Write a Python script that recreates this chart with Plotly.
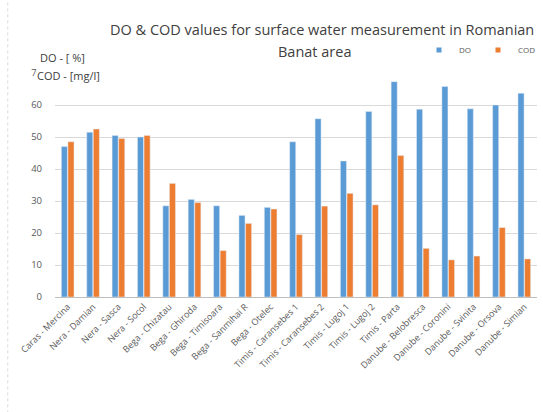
import plotly.graph_objects as go

sites = [
    "Caras - Mercina", "Nera - Damian", "Nera - Sasca", "Nera - Socol",
    "Bega - Chizatau", "Bega - Ghiroda", "Bega - Timisoara", "Bega - Sanmihai R",
    "Bega - Otelec", "Timis - Caransebes 1", "Timis - Caransebes 2",
    "Timis - Lugoj 1", "Timis - Lugoj 2", "Timis - Parta",
    "Danube - Belobresca", "Danube - Coronini", "Danube - Svinita",
    "Danube - Orsova", "Danube - Simian",
]
do_values = [47, 51.5, 50.5, 50, 28.5, 30.5, 28.5, 25.5, 28, 48.5, 55.7,
             42.5, 58, 67.3, 58.7, 65.8, 58.8, 60, 63.7]
cod_values = [48.5, 52.5, 49.5, 50.5, 35.5, 29.5, 14.5, 23, 27.5, 19.5, 28.4,
              32.4, 28.8, 44.2, 15.2, 11.6, 12.8, 21.7, 11.9]
y_ticks = [0, 10, 20, 30, 40, 50, 60, 70]

blue = "#5B9BD5"
orange = "#ED7D31"
grey = "#595959"
dark = "#404040"
font = "Open Sans, Lato, sans-serif"

fig = go.Figure()
fig.add_trace(go.Bar(x=sites, y=do_values, name="DO", marker_color=blue,
                     showlegend=False))
fig.add_trace(go.Bar(x=sites, y=cod_values, name="COD", marker_color=orange,
                     showlegend=False))
# small square legend keys, like the Excel original
for name, colour in [("DO", blue), ("COD", orange)]:
    fig.add_trace(go.Scatter(x=[None], y=[None], mode="markers", name=name,
                             marker=dict(symbol="square", size=5, color=colour)))

fig.update_layout(
    width=543,
    height=412,
    margin=dict(l=55, r=6, t=73, b=115),
    paper_bgcolor="white",
    plot_bgcolor="white",
    font=dict(family=font, color=grey, size=9),
    barmode="group",
    bargap=0.48,
    bargroupgap=0.08,
    legend=dict(
        orientation="h", x=1.0, xanchor="right", y=1.103, yanchor="middle",
        font=dict(size=8, color=grey), itemwidth=30, entrywidth=14,
        bgcolor="rgba(0,0,0,0)", tracegroupgap=0,
    ),
)

# two-line chart title
fig.add_annotation(text="DO & COD values for surface water measurement in Romanian",
                   xref="paper", yref="paper", x=0.553, y=1.192,
                   xanchor="center", yanchor="middle", showarrow=False,
                   font=dict(size=14.5, color=dark))
fig.add_annotation(text="Banat area", xref="paper", yref="paper", x=0.54, y=1.094,
                   xanchor="center", yanchor="middle", showarrow=False,
                   font=dict(size=14.5, color=dark))

# axis captions above the value axis; the COD one sits over the "70" label
fig.add_annotation(text="DO - [ %]", xref="paper", yref="paper",
                   x=-0.036, y=1.067, xanchor="left", yanchor="middle",
                   showarrow=False, font=dict(size=11, color=dark))
fig.add_annotation(text="COD - [mg/l]", xref="paper", yref="paper",
                   x=-0.039, y=0.99, xanchor="left", yanchor="middle",
                   showarrow=False, font=dict(size=11, color=dark),
                   bgcolor="white", borderpad=0)

fig.update_xaxes(
    tickangle=-45, showgrid=False, showline=True, linecolor="#BFBFBF",
    ticks="", tickfont=dict(size=9, color=grey),
)
fig.update_yaxes(
    range=[0, 70], tickvals=y_ticks, showgrid=True, gridcolor="#D9D9D9",
    zeroline=False, showline=False, ticks="", tickfont=dict(size=9.5, color=grey),
    ticklabelstandoff=12,
)
# faint dotted chart border on the left
fig.add_shape(type="line", xref="paper", yref="paper", x0=-0.098, x1=-0.098,
              y0=-0.6, y1=1.4, line=dict(color="#D9D9D9", width=1, dash="dot"))

fig.write_html("out.html", config={"displayModeBar": False},
               post_script="document.body.style.margin='0';")
